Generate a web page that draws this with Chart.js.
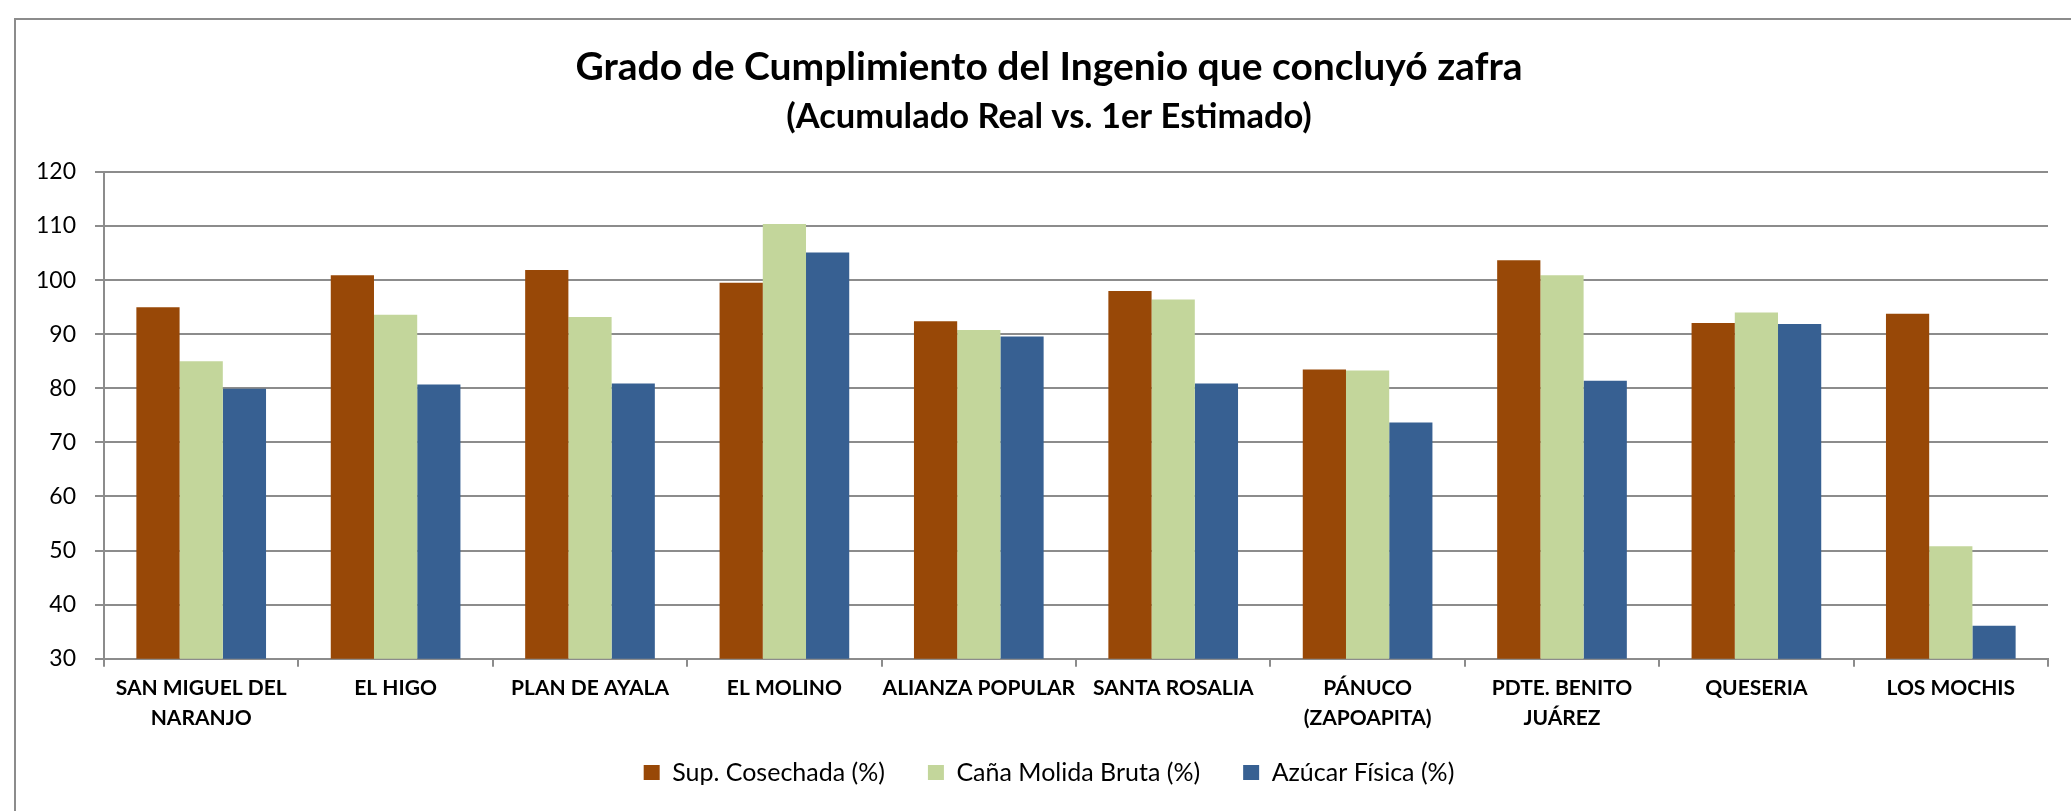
<!DOCTYPE html>
<html>
<head>
<meta charset="utf-8">
<script src="https://cdn.jsdelivr.net/npm/chart.js@4.4.1/dist/chart.umd.min.js"></script>
<style>
    html, body { margin: 0; padding: 0; background: #fff; overflow: hidden; }
    #frame {
        position: absolute; left: 14px; top: 18px; width: 2200px; height: 900px;
        border-top: 2px solid #8c8c8c; border-left: 2px solid #8c8c8c;
    }
    #myChart { position: absolute; left: 0; top: 0; }
</style>
</head>
<body>
<div id="frame"></div>
<canvas id="myChart" width="2071" height="811"></canvas>
<script>
var ingenios = [
    ['SAN MIGUEL DEL', 'NARANJO'], 'EL HIGO', 'PLAN DE AYALA', 'EL MOLINO', 'ALIANZA POPULAR',
    'SANTA ROSALIA', ['PÁNUCO', '(ZAPOAPITA)'], ['PDTE. BENITO', 'JUÁREZ'], 'QUESERIA', 'LOS MOCHIS'
];
var supCosechada = [95.0, 100.9, 101.9, 99.5, 92.4, 98.0, 83.5, 103.7, 92.1, 93.8];
var canaMolida = [85.0, 93.6, 93.2, 110.4, 90.8, 96.4, 83.3, 100.9, 94.0, 50.8];
var azucarFisica = [79.9, 80.7, 80.9, 105.1, 89.6, 80.9, 73.7, 81.4, 91.9, 36.1];

var gris = '#8c8c8c';
var fuente = 'Lato';

// titles and legend are centred on the whole chart object, not on the plot
var centrarTitulos = {
    id: 'centrarTitulos',
    afterLayout: function(chart) {
        chart.boxes.forEach(function(b) {
            if (!b.axis) {
                b.left = 50;
            }
            if (b === chart.legend) {
                b.top -= 16;
                b.bottom -= 16;
            }
        });
    }
};

var ctx = document.getElementById('myChart');
var chart = new Chart(ctx, {
    type: 'bar',
    data: {
        labels: ingenios,
        datasets: [{
                label: 'Sup. Cosechada (%)',
                backgroundColor: '#984807',
                data: supCosechada,
            },
            {
                label: 'Caña Molida Bruta (%)',
                backgroundColor: '#c3d69b',
                data: canaMolida,
            },
            {
                label: 'Azúcar Física (%)',
                backgroundColor: '#376092',
                data: azucarFisica,
            }
        ]
    },
    plugins: [centrarTitulos],
    options: {
        responsive: false,
        animation: false,
        devicePixelRatio: 1,
        layout: { padding: { left: 14, right: 23, top: 0, bottom: 0 } },
        datasets: { bar: { barPercentage: 1, categoryPercentage: 0.667 } },
        plugins: {
            title: {
                display: true,
                text: 'Grado de Cumplimiento del Ingenio que concluyó zafra',
                color: '#000',
                font: { family: fuente, size: 39, weight: 'bold' },
                padding: { top: 44, bottom: 0 }
            },
            subtitle: {
                display: true,
                text: '(Acumulado Real vs. 1er Estimado)',
                color: '#000',
                font: { family: fuente, size: 34.5, weight: 'bold' },
                padding: { top: 5, bottom: 34.8 }
            },
            legend: {
                position: 'bottom',
                labels: {
                    color: '#000',
                    font: { family: fuente, size: 25 },
                    boxWidth: 16,
                    boxHeight: 15,
                    padding: 43
                }
            },
            tooltip: { enabled: false }
        },
        scales: {
            x: {
                grid: { display: true, drawOnChartArea: false, color: gris, lineWidth: 2, tickLength: 8 },
                border: { color: gris, width: 2 },
                ticks: {
                    color: '#000',
                    font: { family: fuente, size: 21, weight: 'bold', lineHeight: 1.4 },
                    padding: 7,
                    maxRotation: 0,
                    autoSkip: false
                },
                afterFit: function(scale) { scale.height = 74.3; }
            },
            y: {
                min: 30,
                max: 120,
                ticks: { stepSize: 10, color: '#000', font: { family: fuente, size: 23 }, padding: 19 },
                grid: { color: gris, lineWidth: 2, tickLength: 9 },
                border: { color: gris, width: 2 },
                afterFit: function(scale) { scale.width = 90; }
            }
        }
    }
});
</script>
</body>
</html>
